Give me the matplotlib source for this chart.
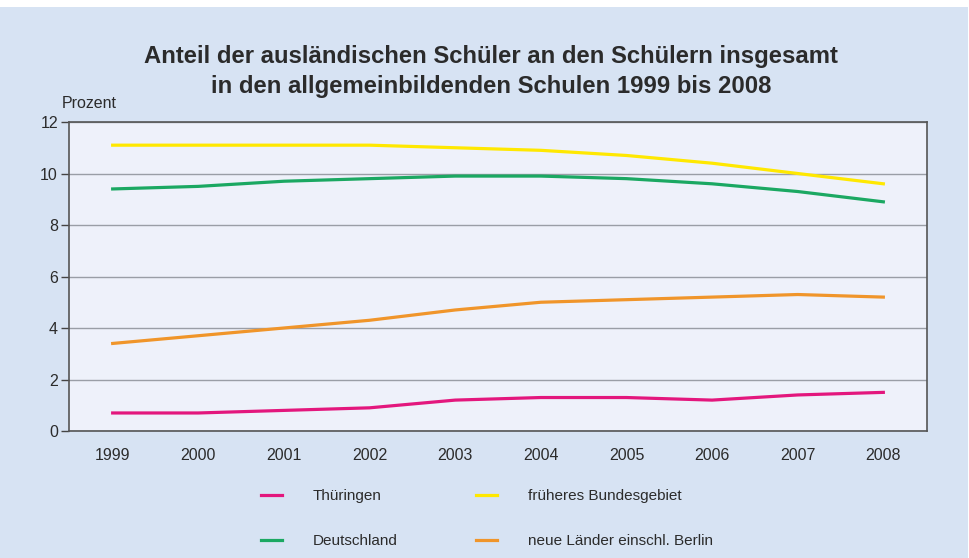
import matplotlib
matplotlib.use("Agg")
import matplotlib.pyplot as plt

plt.rcParams['font.family'] = ['Liberation Sans', 'DejaVu Sans']

years = [1999, 2000, 2001, 2002, 2003, 2004, 2005, 2006, 2007, 2008]
thueringen = [0.7, 0.7, 0.8, 0.9, 1.2, 1.3, 1.3, 1.2, 1.4, 1.5]
frueheres = [11.1, 11.1, 11.1, 11.1, 11.0, 10.9, 10.7, 10.4, 10.0, 9.6]
deutschland = [9.4, 9.5, 9.7, 9.8, 9.9, 9.9, 9.8, 9.6, 9.3, 8.9]
neue_laender = [3.4, 3.7, 4.0, 4.3, 4.7, 5.0, 5.1, 5.2, 5.3, 5.2]
yticks = [0, 2, 4, 6, 8, 10, 12]

W, H = 970, 558
fig = plt.figure(figsize=(W / 100, H / 100), dpi=100)
fig.patch.set_facecolor('white')
bg = plt.Rectangle((0, 0), 968 / W, (H - 7) / H, transform=fig.transFigure,
                   facecolor='#d7e3f3', edgecolor='none', zorder=-10)
fig.patches.append(bg)

left, right, top, bottom = 69, 927, 122, 431
ax = fig.add_axes([left / W, 1 - bottom / H, (right - left) / W, (bottom - top) / H])
ax.set_facecolor('#eef1fa')

lw = 2.3
l_th, = ax.plot(years, thueringen, color='#e3177d', lw=lw, label='Thüringen')
l_fr, = ax.plot(years, frueheres, color='#ffe800', lw=lw, label='früheres Bundesgebiet')
l_de, = ax.plot(years, deutschland, color='#1ba862', lw=lw, label='Deutschland')
l_ne, = ax.plot(years, neue_laender, color='#f0952a', lw=lw, label='neue Länder einschl. Berlin')

ax.set_xlim(1998.49, 2008.51)
ax.set_ylim(0, 12)
ax.set_yticks(yticks)
ax.set_xticks(years)
ax.set_xticklabels([str(y) for y in years])
ax.yaxis.grid(True, color='#9a9ea6', lw=1.0)
ax.set_axisbelow(True)
ax.tick_params(axis='x', length=0, pad=12, labelsize=11.5, labelcolor='#2b2b2b')
ax.tick_params(axis='y', length=6, width=1, color='#444444', pad=2, labelsize=11.5, labelcolor='#2b2b2b')
for s in ['left', 'top', 'right', 'bottom']:
    ax.spines[s].set_color('#555555')
    ax.spines[s].set_linewidth(1.2)

fig.text(491 / W, 1 - 57 / H, 'Anteil der ausländischen Schüler an den Schülern insgesamt',
         ha='center', va='center', fontsize=17.2, fontweight='bold', color='#2b2b2b')
fig.text(491 / W, 1 - 87 / H, 'in den allgemeinbildenden Schulen 1999 bis 2008',
         ha='center', va='center', fontsize=17.2, fontweight='bold', color='#2b2b2b')
fig.text(62 / W, 1 - 103 / H, 'Prozent', ha='left', va='center', fontsize=11.5, color='#2b2b2b')

leg = fig.legend([l_th, l_de, l_fr, l_ne],
                 ['Thüringen', 'Deutschland', 'früheres Bundesgebiet', 'neue Länder einschl. Berlin'],
                 ncol=2, loc='upper left', bbox_to_anchor=(261 / W, 1 - 489 / H),
                 frameon=False, fontsize=11, handlelength=1.4, handletextpad=2.0,
                 columnspacing=5.1, labelspacing=2.05, borderaxespad=0, borderpad=0)
for t in leg.get_texts():
    t.set_color('#2b2b2b')

fig.savefig('out.png', dpi=100, facecolor=fig.get_facecolor())
